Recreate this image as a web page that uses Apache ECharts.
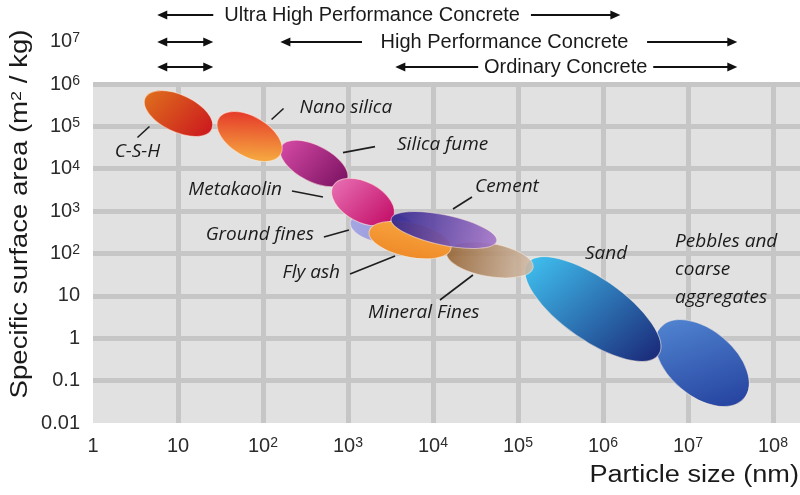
<!DOCTYPE html>
<html>
<head>
<meta charset="utf-8">
<script src="https://cdn.jsdelivr.net/npm/echarts@6/dist/echarts.min.js"></script>
<style>
  html, body { margin: 0; background: #fff; }
  #chart { width: 800px; height: 495px; }
</style>
</head>
<body>
<div id="chart"></div>
<script>
// materials, in drawing order (later ones sit on top)
// each blob is an ellipse whose long axis runs from (sizeFrom, areaFrom) to (sizeTo, areaTo)
const materials = ['Pebbles and\ncoarse\naggregates', 'C-S-H', 'Silica fume', 'Nano silica', 'Ground fines',
  'Metakaolin', 'Sand', 'Mineral Fines', 'Fly ash', 'Cement'];
const sizeFrom = [4.7e6, 4.1, 163, 30, 1.06e3, 666, 1.29e5, 1.45e4, 1.77e3, 3.22e3];   // nm
const areaFrom = [1.78, 4.7e5, 3.3e4, 1.53e5, 545, 3900, 59, 106, 334, 659];          // m2/kg
const sizeTo = [4.57e7, 25, 973, 161, 6.6e3, 3.38e3, 4.5e6, 1.51e5, 1.63e4, 5.63e4];  // nm
const areaTo = [0.038, 8.6e4, 5.3e3, 2.17e4, 327, 689, 0.405, 46.5, 130, 195];         // m2/kg

// concrete classes at the top, particle size ranges in nm
const concreteNames = ['Ultra High Performance Concrete', 'High Performance Concrete', 'Ordinary Concrete'];
const leftArrowHead = [5.7, 160, 3600];
const leftArrowTail = [26, 1460, 34000];
const rightArrowTail = [1.42e5, 3.3e6, 3.9e6];
const rightArrowHead = [1.6e6, 3.8e7, 3.8e7];
const shortDouble = [false, true, true];   // extra <-> arrow over 5.7..26 nm

const xTicks = [1, 10, 1e2, 1e3, 1e4, 1e5, 1e6, 1e7, 1e8];
const yTicks = [0.01, 0.1, 1, 10, 1e2, 1e3, 1e4, 1e5, 1e6, 1e7];

// look of each blob (same order as materials)
const looks = [
  { ry: 33, c: ['#558bd6', '#203b99'], g: [0, 0, 1, 1], t: [-27, -93, 'left'] },
  { ry: 18.5, c: ['#df721d', '#cc191e'], g: [0, 0, 1, 0.6], t: [-41, 38, 'center'], l: [-41, 24, -29, 13] },
  { ry: 18, c: ['#d84ba6', '#7c1363'], g: [0, 0, 1, 0.5], t: [83, -19, 'left'], l: [29, -11, 61, -17] },
  { ry: 20, c: ['#e5392a', '#f5a43f'], g: [0.3, 0, 0.6, 1], t: [50, -29, 'left'], l: [22, -17, 34, -28] },
  { ry: 16, c: ['#a5a7e3', '#9294d8'], g: [0, 0, 1, 0], t: [-70, 8, 'right'], l: [-60, 10, -35, 3] },
  { ry: 20, c: ['#e972b5', '#c41169'], g: [0, 0, 1, 0.5], t: [-81, -12, 'right'], l: [-71, -11, -40, -5] },
  { ry: 31, c: ['#40c2f1', '#1a2777'], g: [0, 0.2, 1, 0.8], t: [-8, -55, 'left'] },
  { ry: 16.5, c: ['#93602f', '#d3bda9'], g: [0, 0, 1, 0], t: [-122, 53, 'left'], l: [-50, 40, -17, 15], o: 0.88 },
  { ry: 17, c: ['#f7a33e', '#ef8b29'], g: [0, 0, 0, 1], t: [-70, 33, 'right'], l: [-60, 34, -15, 16] },
  { ry: 15, c: ['#2f248c', '#a677c9'], g: [0, 0, 1, 0], t: [31, -43, 'left'], l: [9, -21, 28, -33], o: 0.92 }
];

const supDigits = v => {
  const e = Math.round(Math.log10(v));
  if (Math.abs(Math.log10(v) - e) > 1e-6) return '';
  if (e === -2) return '0.01';
  if (e === -1) return '0.1';
  if (e === 0) return '1';
  if (e === 1) return '10';
  return '10{sup|' + e + '}';
};

const tickFont = { fontFamily: '"Liberation Sans", Arial, sans-serif', fontSize: 20, color: '#2b2b2b',
  rich: { sup: { fontSize: 14, verticalAlign: 'top', lineHeight: 14, padding: [0, 0, 6, 0] } } };

const xMax = Math.pow(10, 707 / 85);

const chart = echarts.init(document.getElementById('chart'));

chart.setOption({
  backgroundColor: '#fff',
  animation: false,
  grid: [
    { left: 93, right: 0, top: 84, bottom: 72, show: true, backgroundColor: '#e1e1e1', borderWidth: 0 },
    { left: 93, right: 0, top: 41.6, height: 42.4, show: false }
  ],
  xAxis: [
    {
      type: 'log', logBase: 10, min: xTicks[0], max: xMax, interval: 1,
      axisLine: { show: false }, axisTick: { show: false },
      axisLabel: Object.assign({ margin: 13, formatter: supDigits, showMaxLabel: false }, tickFont),
      splitLine: { show: true, showMinLine: false, showMaxLine: false, lineStyle: { color: '#c6c6c6', width: 5 } }
    },
    { gridIndex: 1, type: 'value', show: false, min: 0, max: 1 }
  ],
  yAxis: [
    {
      type: 'log', logBase: 10, min: yTicks[0], max: 1e6, interval: 1,
      axisLine: { show: false }, axisTick: { show: false },
      axisLabel: Object.assign({ margin: 13, formatter: supDigits }, tickFont),
      splitLine: { show: true, showMinLine: false, showMaxLine: true, lineStyle: { color: '#c6c6c6', width: 5 } }
    },
    {
      gridIndex: 1, type: 'log', logBase: 10, min: 1e6, max: yTicks[yTicks.length - 1], interval: 1,
      axisLine: { show: false }, axisTick: { show: false }, splitLine: { show: false },
      axisLabel: Object.assign({ margin: 13, formatter: supDigits, showMinLabel: false }, tickFont)
    }
  ],
  series: [{
    type: 'custom',
    coordinateSystem: 'cartesian2d',
    xAxisIndex: 0,
    yAxisIndex: 0,
    data: materials.map((m, i) => [sizeFrom[i], areaFrom[i], sizeTo[i], areaTo[i]]),
    encode: { x: [0, 2], y: [1, 3] },
    renderItem(params, api) {
      const i = params.dataIndex;
      const lk = looks[i];
      const p1 = api.coord([api.value(0), api.value(1)]);
      const p2 = api.coord([api.value(2), api.value(3)]);
      const cx = (p1[0] + p2[0]) / 2, cy = (p1[1] + p2[1]) / 2;
      const rx = Math.hypot(p2[0] - p1[0], p2[1] - p1[1]) / 2;
      const ang = Math.atan2(p2[1] - p1[1], p2[0] - p1[0]);
      const kids = [{
        type: 'ellipse',
        x: cx, y: cy, rotation: -ang,
        z2: i,
        shape: { cx: 0, cy: 0, rx: rx, ry: lk.ry },
        style: {
          fill: new echarts.graphic.LinearGradient(lk.g[0], lk.g[1], lk.g[2], lk.g[3],
            [{ offset: 0, color: lk.c[0] }, { offset: 1, color: lk.c[1] }]),
          opacity: lk.o || 1,
          stroke: 'rgba(255,240,225,0.55)', lineWidth: 1
        }
      }];
      if (lk.l) {
        kids.push({
          type: 'line', z2: 50,
          shape: { x1: cx + lk.l[0], y1: cy + lk.l[1], x2: cx + lk.l[2], y2: cy + lk.l[3] },
          style: { stroke: '#1e1e1e', lineWidth: 1.6 }
        });
      }
      kids.push({
        type: 'text', z2: 50,
        x: cx + lk.t[0], y: cy + lk.t[1],
        style: {
          text: materials[i], align: lk.t[2], verticalAlign: 'middle',
          fontFamily: '"Open Sans", sans-serif', fontStyle: 'italic', fontSize: 19,
          lineHeight: 28, fill: '#1b1b1b'
        }
      });
      return { type: 'group', children: kids };
    }
  }]
});

// top annotations: arrows placed by particle size
const px = v => chart.convertToPixel({ xAxisIndex: 0 }, v);
const rowY = [15, 42, 67];
const ink = '#111';
function head(x, y, dir) {
  return { type: 'polygon', shape: { points: [[x, y], [x - dir * 10, y - 4.5], [x - dir * 10, y + 4.5]] }, style: { fill: ink } };
}
function arrow(xa, xb, y, headA, headB) {
  const out = [{ type: 'line', shape: { x1: xa + (headA ? 8 : 0), y1: y, x2: xb - (headB ? 8 : 0), y2: y },
    style: { stroke: ink, lineWidth: 2 } }];
  if (headA) out.push(head(xa, y, -1));
  if (headB) out.push(head(xb, y, 1));
  return out;
}
const notes = [];
concreteNames.forEach((name, r) => {
  const y = rowY[r];
  if (shortDouble[r]) notes.push(...arrow(px(5.7), px(26), y, true, true));
  notes.push(...arrow(px(leftArrowHead[r]), px(leftArrowTail[r]), y, true, false));
  notes.push(...arrow(px(rightArrowTail[r]), px(rightArrowHead[r]), y, false, true));
  notes.push({
    type: 'text', x: (px(leftArrowTail[r]) + px(rightArrowTail[r])) / 2, y: y,
    style: { text: name, align: 'center', verticalAlign: 'middle', fill: '#1a1a1a',
      fontFamily: '"Liberation Sans", Arial, sans-serif', fontSize: 20 }
  });
});
notes.push({
  type: 'text', x: 799, y: 476, scaleX: 1.18,
  style: { text: 'Particle size (nm)', align: 'right', verticalAlign: 'middle', fill: '#1a1a1a',
    fontFamily: '"Liberation Sans", Arial, sans-serif', fontSize: 23 }
});
notes.push({
  type: 'text', x: 21, y: 214, rotation: Math.PI / 2, scaleX: 1.2,
  style: { text: 'Specific surface area (m{s|2} / kg)', align: 'center', verticalAlign: 'middle', fill: '#1a1a1a',
    fontFamily: '"Liberation Sans", Arial, sans-serif', fontSize: 23,
    rich: { s: { fontSize: 15, verticalAlign: 'top', lineHeight: 15, padding: [0, 0, 8, 0] } } }
});
chart.setOption({ graphic: notes.map(n => Object.assign({ z: 100 }, n)) });
</script>
</body>
</html>
